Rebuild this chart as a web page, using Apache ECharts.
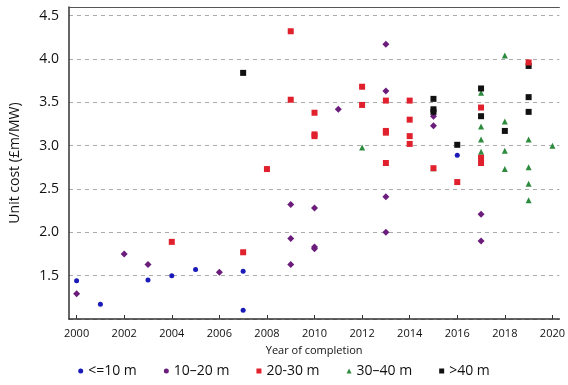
<!DOCTYPE html>
<html>
<head>
<meta charset="utf-8">
<script src="https://cdn.jsdelivr.net/npm/echarts@6/dist/echarts.min.js"></script>
<style>html,body{margin:0;padding:0;background:#fff}#c{width:568px;height:385px}</style>
</head>
<body>
<div id="c"></div>
<script>
var seriesNames = ['<=10 m', '10\u201320 m', '20-30 m', '30\u201340 m', '>40 m'];
var xTicks = [2000, 2002, 2004, 2006, 2008, 2010, 2012, 2014, 2016, 2018, 2020];

var upTo10 = [[2000,1.44],[2001,1.17],[2003,1.45],[2004,1.50],[2005,1.57],[2007,1.55],[2007,1.10],[2016,2.89]];
var m10to20 = [[2000,1.29],[2002,1.75],[2003,1.63],[2006,1.54],[2009,2.32],[2009,1.93],[2009,1.63],[2010,2.28],[2010,1.83],[2010,1.81],[2011,3.42],[2013,4.17],[2013,3.63],[2013,2.41],[2013,2.00],[2015,3.34],[2015,3.23],[2017,2.21],[2017,1.90]];
var m20to30 = [[2004,1.89],[2007,1.77],[2008,2.73],[2009,4.32],[2009,3.53],[2010,3.38],[2010,3.13],[2010,3.11],[2012,3.68],[2012,3.47],[2013,3.52],[2013,3.17],[2013,3.15],[2013,2.80],[2014,3.52],[2014,3.30],[2014,3.11],[2014,3.02],[2015,2.74],[2016,2.58],[2017,3.44],[2017,2.86],[2017,2.80],[2019,3.96]];
var m30to40 = [[2012,2.98],[2015,2.74],[2017,3.61],[2017,3.22],[2017,3.07],[2017,2.93],[2018,4.04],[2018,3.28],[2018,2.94],[2018,2.73],[2019,3.07],[2019,2.75],[2019,2.56],[2019,2.37],[2020,3.00]];
var over40 = [[2007,3.84],[2015,3.54],[2015,3.42],[2015,3.39],[2016,3.01],[2017,3.66],[2017,3.34],[2018,3.17],[2019,3.92],[2019,3.56],[2019,3.39]];

var colors = ['#1a1ab8', '#6b1d7c', '#e0202c', '#2e8b3e', '#111111'];
var symbols = ['circle', 'diamond', 'rect', 'triangle', 'rect'];
var sizes = [5, 7, 6, 6, 6];
var datas = [upTo10, m10to20, m20to30, m30to40, over40];
var font = 'Open Sans';

var chart = echarts.init(document.getElementById('c'));
var series = [];
for (var i = 0; i < 5; i++) {
  series.push({
    name: seriesNames[i], type: 'scatter', data: datas[i],
    symbol: symbols[i], symbolSize: sizes[i],
    itemStyle: {color: colors[i], opacity: 1},
    z: (i === 2 ? 4 : 3)
  });
}
chart.setOption({
  animation: false,
  textStyle: {fontFamily: font},
  grid: {left: 69, right: 0, top: 7, bottom: 66},
  legend: {
    bottom: 2, left: 'center', itemGap: 27, itemWidth: 5, itemHeight: 5,
    textStyle: {fontSize: 14, color: '#111', fontFamily: font},
    data: seriesNames.map(function (n, i) { return {name: n, icon: i === 3 ? 'triangle' : (i < 2 ? 'circle' : 'rect')}; })
  },
  xAxis: [{
    type: 'value', min: 1999.68, max: 2020.29,
    name: 'Year of completion', nameLocation: 'middle', nameGap: 26,
    nameTextStyle: {fontSize: 11, color: '#111', fontFamily: font},
    axisLine: {show: true, lineStyle: {color: '#333', width: 1.5}},
    axisTick: {show: true, inside: true, length: 4, customValues: xTicks, lineStyle: {color: '#333'}},
    axisLabel: {customValues: xTicks, fontSize: 11, color: '#111', margin: 9, formatter: function (v) { return String(Math.round(v)); }},
    splitLine: {show: false}
  }, {
    type: 'value', position: 'top', min: 1999.68, max: 2020.29,
    axisLine: {show: true, lineStyle: {color: '#555', width: 1.2}},
    axisTick: {show: false}, axisLabel: {show: false}, splitLine: {show: false}
  }],
  yAxis: {
    type: 'value', min: 1.0, max: 4.6, interval: 0.5,
    name: 'Unit cost (\u00a3m/MW)', nameLocation: 'middle', nameGap: 47,
    nameTextStyle: {fontSize: 14, color: '#111', fontFamily: font},
    axisLine: {show: true, lineStyle: {color: '#333', width: 1.5}},
    axisTick: {show: false},
    axisLabel: {fontSize: 14, color: '#111', margin: 10, formatter: function (v) {
      if (v < 1.2 || Math.abs(v * 2 - Math.round(v * 2)) > 0.01) return '';
      return v.toFixed(1);
    }},
    splitLine: {show: true, lineStyle: {color: '#aaa', type: [4, 4], width: 1}}
  },
  series: series
});
</script>
</body>
</html>
